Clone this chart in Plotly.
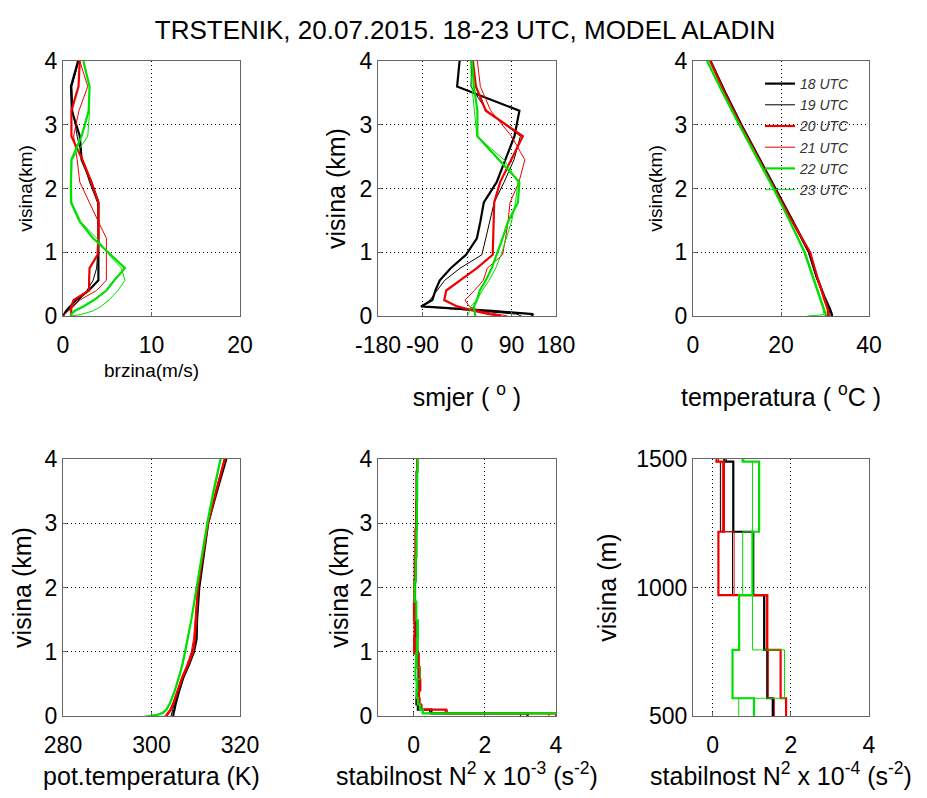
import plotly.graph_objects as go
from plotly.subplots import make_subplots

# ---- data -------------------------------------------------------------
hours = ['18 UTC', '19 UTC', '20 UTC', '21 UTC', '22 UTC', '23 UTC']
colors = ['#000000', '#000000', '#ee0000', '#ee0000', '#00e000', '#00e000']
widths = [2.2, 1, 2.2, 1, 2.2, 1]

# model levels (km) for wind speed / direction
wind_levels = [0, 0.03, 0.08, 0.15, 0.25, 0.4, 0.56, 0.75, 0.96, 1.22, 1.48, 1.78, 2.1, 2.45, 2.82, 3.22, 3.6, 4.0]

speed_18 = [0.0, 0.1, 0.35, 0.8, 1.5, 2.9, 4.0, 4.0, 4.0, 4.0, 4.0, 4.0, 3.2, 2.1, 1.9, 1.0, 0.9, 1.7]
speed_19 = [0.0, 0.2, 0.6, 1.1, 1.8, 2.7, 3.4, 3.8, 3.9, 4.0, 4.0, 3.9, 3.0, 2.2, 1.6, 1.1, 1.0, 1.8]
speed_20 = [0.9, 0.9, 0.9, 0.95, 1.2, 2.95, 2.95, 3.0, 3.9, 4.0, 4.0, 4.0, 3.2, 2.2, 0.95, 0.95, 1.75, 1.9]
speed_21 = [0.0, 0.2, 0.6, 1.2, 1.9, 3.8, 4.9, 4.9, 4.9, 4.9, 4.0, 3.0, 1.9, 1.6, 1.2, 1.8, 2.8, 1.9]
speed_22 = [0.95, 0.95, 1.3, 2.3, 3.5, 4.9, 5.8, 7.0, 5.4, 3.4, 1.9, 0.9, 0.9, 0.95, 2.1, 2.9, 3.0, 2.3]
speed_23 = [1.0, 2.2, 3.4, 4.3, 5.2, 6.2, 7.0, 6.6, 5.2, 3.8, 2.0, 1.0, 0.95, 1.0, 2.8, 3.0, 3.0, 2.3]

dir_18 = [130, 134, 50, -93, -70, -64, -55, -33, -2, 20, 27, 34, 60, 78, 96, 106, -20, -15]
dir_19 = [110, 100, 20, -89, -75, -60, -45, -14, 30, 38, 46, 55, 75, 95, 108, 40, 8, 10]
dir_20 = [69, 45, 15, -20, -46, -42, -14, 20, 52, 53, 54, 55, 67, 90, 113, 38, 18, 12]
dir_21 = [82, 60, 25, 5, -4, 15, 33, 41, 72, 78, 83, 87, 105, 117, 90, 48, 27, 21]
dir_22 = [17, 16, 15, 14, 20, 26, 38, 50, 60, 72, 83, 103, 106, 65, 21, 21, 14, 10]
dir_23 = [0, 3, 5, 7, 20, 31, 45, 58, 69, 80, 90, 98, 103, 75, 20, 15, 10, 7]
dir_ticks = [-180, -90, 0, 90, 180]
dir_ticktext = ['-180', '-90', '0', '90', '180']

# temperature (deg C)
temp_levels = [0, 0.02, 0.1, 0.3, 0.6, 1.0, 1.5, 2.0, 2.5, 3.0, 3.5, 4.0]
temp_18 = [31.5, 31.6, 31.2, 29.9, 28.2, 26.4, 22.6, 18.7, 14.8, 11.0, 7.4, 4.0]
temp_19 = [31.0, 31.2, 30.9, 29.7, 28.0, 26.2, 22.4, 18.6, 14.7, 10.9, 7.3, 3.9]
temp_20 = [30.5, 30.8, 30.7, 29.7, 28.3, 26.6, 22.4, 18.5, 14.6, 10.8, 7.2, 3.9]
temp_21 = [30.2, 30.5, 30.5, 29.5, 28.2, 26.7, 22.3, 18.4, 14.5, 10.7, 7.1, 3.8]
temp_22 = [30.0, 30.2, 29.8, 28.8, 27.3, 25.4, 21.9, 18.3, 14.4, 10.5, 6.8, 3.2]
temp_23 = [26.0, 29.8, 29.6, 28.6, 27.1, 25.2, 21.8, 18.2, 14.3, 10.4, 6.7, 3.1]

# potential temperature (K)
theta_levels = [0, 0.02, 0.05, 0.1, 0.2, 0.4, 0.6, 0.8, 1.0, 1.2, 1.5, 2.0, 2.5, 3.0, 3.5, 4.0]
theta_18 = [304.9, 304.9, 305.0, 305.2, 305.5, 306.3, 307.2, 308.5, 309.6, 310.2, 310.3, 310.8, 311.8, 312.8, 314.8, 316.9]
theta_19 = [304.4, 304.5, 304.6, 304.8, 305.2, 306.1, 307.0, 308.2, 309.2, 309.8, 310.2, 310.7, 311.7, 312.7, 314.7, 316.8]
theta_20 = [303.4, 303.6, 304.0, 304.4, 305.0, 306.0, 307.0, 308.3, 309.4, 309.8, 310.0, 310.5, 311.6, 312.8, 314.6, 316.6]
theta_21 = [303.0, 303.2, 303.6, 304.1, 304.8, 305.8, 306.8, 308.0, 309.0, 309.5, 309.9, 310.4, 311.5, 312.7, 314.5, 316.4]
theta_22 = [299.6, 301.5, 302.6, 303.4, 304.2, 305.3, 306.2, 307.0, 307.6, 308.2, 309.0, 310.2, 311.4, 312.6, 314.0, 315.6]
theta_23 = [298.5, 301.0, 302.3, 303.2, 304.1, 305.2, 306.1, 306.9, 307.5, 308.1, 309.0, 310.2, 311.5, 312.7, 314.2, 315.7]

# stability N^2 (x 1e-4 s^-2), layer value from each level up to the next (m)
n2_levels = [0, 40, 100, 180, 280, 400, 569, 757, 970, 1217, 1490, 1780, 2100, 2480, 2900, 3350, 3800, 4300]
n2_18 = [32, 5.0, 1.2, 0.8, 0.9, 1.54, 1.40, 1.32, 1.04, 0.53, 0.30, 0.40, 0.55, 0.70, 0.80, 0.90, 1.00, 1.00]
n2_19 = [30, 4.5, 1.3, 0.9, 1.0, 1.56, 1.41, 1.33, 0.51, 0.20, 0.35, 0.45, 0.60, 0.70, 0.80, 0.90, 1.00, 1.00]
n2_20 = [40, 9.0, 2.0, 1.6, 1.5, 1.88, 1.74, 1.40, 0.15, 0.29, 0.10, 0.20, 0.30, 0.50, 0.70, 0.85, 1.00, 1.00]
n2_21 = [38, 9.5, 2.4, 1.8, 1.6, 1.58, 1.42, 1.38, 0.55, 0.25, 0.15, 0.25, 0.35, 0.55, 0.75, 0.90, 1.05, 1.05]
n2_22 = [60, 2.6, 1.8, 1.2, 0.9, 1.06, 0.51, 0.68, 1.02, 1.19, 0.77, 0.30, 0.60, 0.80, 0.90, 1.00, 1.10, 1.10]
n2_23 = [60, 2.4, 1.6, 1.1, 0.8, 0.67, 1.84, 1.02, 0.77, 1.02, 0.80, 0.40, 0.65, 0.80, 0.90, 1.00, 1.10, 1.10]

speeds = [speed_18, speed_19, speed_20, speed_21, speed_22, speed_23]
dirs = [dir_18, dir_19, dir_20, dir_21, dir_22, dir_23]
temps = [temp_18, temp_19, temp_20, temp_21, temp_22, temp_23]
thetas = [theta_18, theta_19, theta_20, theta_21, theta_22, theta_23]
n2s = [n2_18, n2_19, n2_20, n2_21, n2_22, n2_23]

FONT = 'Liberation Sans, Arial, sans-serif'

fig = make_subplots(rows=2, cols=3)

for i, name in enumerate(hours):
    line = dict(color=colors[i], width=widths[i])
    # wind speed
    fig.add_trace(go.Scatter(x=speeds[i], y=wind_levels, mode='lines', line=line,
                             name=name, legendgroup=name, showlegend=False), row=1, col=1)
    # wind direction
    fig.add_trace(go.Scatter(x=dirs[i], y=wind_levels, mode='lines', line=line,
                             name=name, legendgroup=name, showlegend=False), row=1, col=2)
    # temperature (carries the legend)
    fig.add_trace(go.Scatter(x=temps[i], y=temp_levels, mode='lines', line=line,
                             name=name, legendgroup=name, showlegend=True), row=1, col=3)
    # potential temperature
    fig.add_trace(go.Scatter(x=thetas[i], y=theta_levels, mode='lines', line=line,
                             name=name, legendgroup=name, showlegend=False), row=2, col=1)
    # stability, whole profile (1e-3, km)
    fig.add_trace(go.Scatter(x=[v / 10 for v in n2s[i]], y=[h / 1000 for h in n2_levels],
                             mode='lines', line=dict(color=colors[i], width=widths[i], shape='vh'),
                             name=name, legendgroup=name, showlegend=False), row=2, col=2)
    # stability, lowest 1500 m (1e-4, m)
    fig.add_trace(go.Scatter(x=n2s[i], y=n2_levels,
                             mode='lines', line=dict(color=colors[i], width=widths[i], shape='vh'),
                             name=name, legendgroup=name, showlegend=False), row=2, col=3)

# ---- layout -----------------------------------------------------------
# the page body adds an 8px margin, so the figure is 16px smaller than the window
PAGE = 8
W, H = 927 - 2 * PAGE, 798 - 2 * PAGE
cols_px = [(63, 240), (378, 556), (693, 869)]
rows_px = [(61, 316), (459, 716)]


def px_x(p):
    return (p - PAGE) / W


def px_y(p):
    return 1 - (p - PAGE) / H


axis_common = dict(showline=True, mirror=True, linecolor='#666666', linewidth=1,
                   showgrid=True, gridcolor='#000000', gridwidth=1, griddash='1px,3px',
                   zeroline=False, ticks='inside', ticklen=4, tickcolor='#666666',
                   tickfont=dict(family=FONT, size=23, color='#000000'),
                   tickangle=0, automargin=False)

x_specs = [
    dict(range=[0, 20], tickvals=[0, 10, 20], title='brzina(m/s)', size=19, standoff=7),
    dict(range=[-180, 180], tickvals=dir_ticks, ticktext=dir_ticktext,
         title='smjer ( <sup>o</sup> )', size=25, standoff=31),
    dict(range=[0, 40], tickvals=[0, 20, 40], title='temperatura ( <sup>o</sup>C )', size=25, standoff=31),
    dict(range=[280, 320], tickvals=[280, 300, 320], title='pot.temperatura (K)', size=25, standoff=12),
    dict(range=[-1, 4], tickvals=[0, 2, 4],
         title='stabilnost N<sup>2</sup> x 10<sup>-3</sup> (s<sup>-2</sup>)', size=25, standoff=12),
    dict(range=[-0.5, 4], tickvals=[0, 2, 4],
         title='stabilnost N<sup>2</sup> x 10<sup>-4</sup> (s<sup>-2</sup>)', size=25, standoff=12),
]
y_specs = [
    dict(range=[0, 4], tickvals=[0, 1, 2, 3, 4], title='visina(km)', size=19, standoff=6),
    dict(range=[0, 4], tickvals=[0, 1, 2, 3, 4], title='visina (km)', size=25, standoff=6),
    dict(range=[0, 4], tickvals=[0, 1, 2, 3, 4], title='visina(km)', size=19, standoff=6),
    dict(range=[0, 4], tickvals=[0, 1, 2, 3, 4], title='visina (km)', size=25, standoff=6),
    dict(range=[0, 4], tickvals=[0, 1, 2, 3, 4], title='visina (km)', size=25, standoff=3),
    dict(range=[500, 1500], tickvals=[500, 1000, 1500], title='visina (m)', size=25, standoff=12),
]

layout_axes = {}
for k in range(6):
    r, c = divmod(k, 3)
    x0, x1 = cols_px[c]
    y0, y1 = rows_px[r]
    xs, ys = x_specs[k], y_specs[k]
    sfx = '' if k == 0 else str(k + 1)
    xa = dict(axis_common, domain=[px_x(x0), px_x(x1)], range=xs['range'], tickvals=xs['tickvals'],
              ticklabelstandoff=8,
              title=dict(text=xs['title'], font=dict(family=FONT, size=xs['size'], color='#000000'),
                         standoff=xs['standoff']))
    if 'ticktext' in xs:
        xa['ticktext'] = xs['ticktext']
    layout_axes['xaxis' + sfx] = xa
    layout_axes['yaxis' + sfx] = dict(
        axis_common, domain=[px_y(y1), px_y(y0)], range=ys['range'], tickvals=ys['tickvals'],
        title=dict(text=ys['title'], font=dict(family=FONT, size=ys['size'], color='#000000'),
                   standoff=ys['standoff']))

fig.update_layout(**layout_axes)

fig.update_layout(
    width=W, height=H,
    margin=dict(l=0, r=0, t=0, b=0),
    paper_bgcolor='white', plot_bgcolor='white',
    title=dict(text='TRSTENIK, 20.07.2015. 18-23 UTC, MODEL ALADIN',
               x=px_x(465), xanchor='center', y=px_y(30), yanchor='middle',
               font=dict(family=FONT, size=26, color='#000000')),
    legend=dict(x=px_x(760), y=px_y(68), xanchor='left', yanchor='top',
                bgcolor='rgba(0,0,0,0)', borderwidth=0, tracegroupgap=0,
                font=dict(family=FONT, size=14, color='#333333', style='italic')),
    font=dict(family=FONT),
)

fig.write_html('out.html')
